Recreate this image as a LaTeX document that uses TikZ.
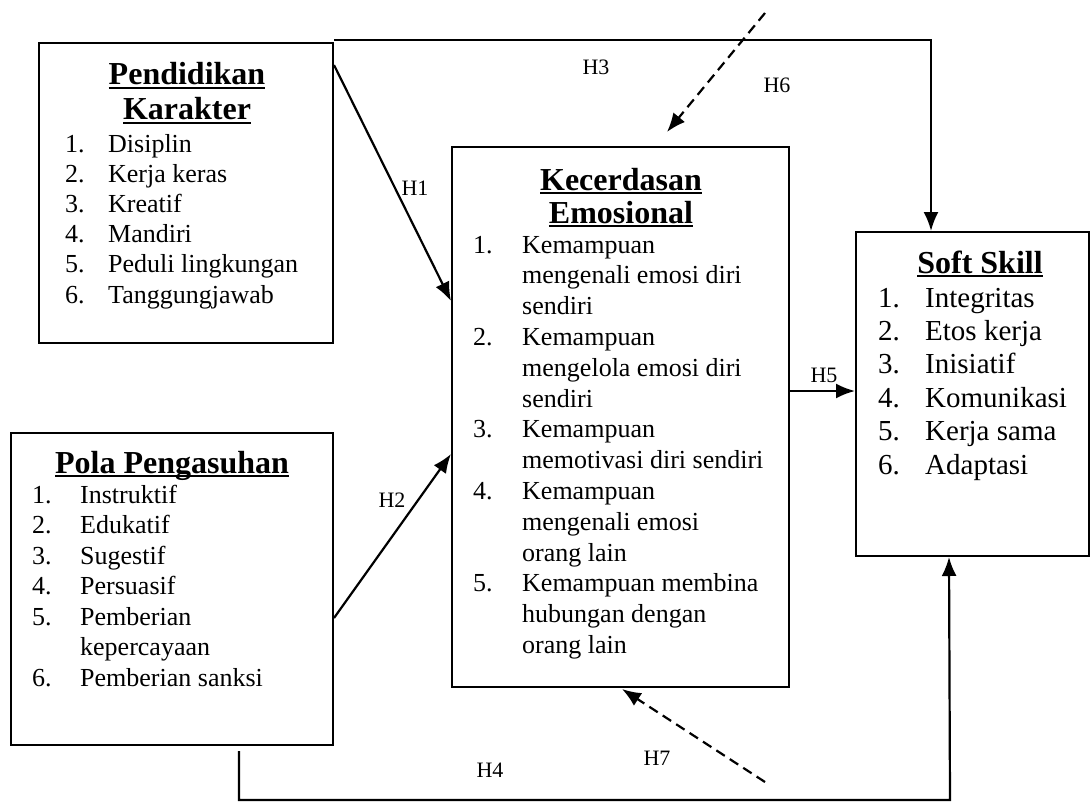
\documentclass[tikz,border=0pt]{standalone}
\usepackage{fontspec}
\setmainfont{Liberation Serif}
\usetikzlibrary{arrows.meta,calc}
\newcommand{\myul}[1]{\setbox0\hbox{#1}\rlap{\rule[-4pt]{\wd0}{2pt}}\box0}
\begin{document}
\begin{tikzpicture}[x=1pt,y=-1pt,
  box/.style={draw,line width=2pt,inner sep=0pt},
  ttl/.style={anchor=base,align=center,inner sep=0pt,font=\fontsize{32}{35}\selectfont\bfseries},
  lst/.style={anchor=base west,inner sep=0pt},
  arr/.style={line width=2.2pt,-{Latex[length=19pt,width=15pt]}},
  darr/.style={arr,dash pattern=on 10pt off 6pt},
  hlab/.style={inner sep=0pt,font=\fontsize{22}{24}\selectfont}]
\useasboundingbox (0,0) rectangle (1091,805);
% boxes
\node[box,minimum width=294pt,minimum height=300pt] (b1) at (186,193) {};
\node[box,minimum width=337pt,minimum height=540pt] (b2) at (620.5,417) {};
\node[box,minimum width=233pt,minimum height=324pt] (b3) at (972.5,394) {};
\node[box,minimum width=322pt,minimum height=312pt] (b4) at (172,589) {};
% titles
\node[ttl] (t1) at (187,120) {\myul{Pendidikan}\\\myul{Karakter}};
\node[ttl,font=\fontsize{32}{33}\selectfont\bfseries] (t2) at (621,223) {\myul{Kecerdasan}\\\myul{Emosional}};
\node[ttl] (t3) at (980,273) {\myul{Soft Skill}};
\node[ttl] (t4) at (172,473) {\myul{Pola Pengasuhan}};
% lists
\node[lst,font=\fontsize{26}{30}\selectfont] (l1) at (65,153) {\begin{tabular}[t]{@{}p{43pt}@{}l@{}}
1.&Disiplin\\ 2.&Kerja keras\\ 3.&Kreatif\\ 4.&Mandiri\\ 5.&Peduli lingkungan\\ 6.&Tanggungjawab\end{tabular}};
\node[lst,font=\fontsize{26}{30.8}\selectfont] (l2) at (473,253) {\begin{tabular}[t]{@{}p{49pt}@{}l@{}}
1.&Kemampuan\\ &mengenali emosi diri\\ &sendiri\\
2.&Kemampuan\\ &mengelola emosi diri\\ &sendiri\\
3.&Kemampuan\\ &memotivasi diri sendiri\\
4.&Kemampuan\\ &mengenali emosi\\ &orang lain\\
5.&Kemampuan membina\\ &hubungan dengan\\ &orang lain\end{tabular}};
\node[lst,font=\fontsize{29}{33.4}\selectfont] (l3) at (878,307) {\begin{tabular}[t]{@{}p{47pt}@{}l@{}}
1.&Integritas\\ 2.&Etos kerja\\ 3.&Inisiatif\\ 4.&Komunikasi\\ 5.&Kerja sama\\ 6.&Adaptasi\end{tabular}};
\node[lst,font=\fontsize{26}{30.5}\selectfont] (l4) at (32,503) {\begin{tabular}[t]{@{}p{48pt}@{}l@{}}
1.&Instruktif\\ 2.&Edukatif\\ 3.&Sugestif\\ 4.&Persuasif\\ 5.&Pemberian\\ &kepercayaan\\ 6.&Pemberian sanksi\end{tabular}};
% helper coordinates
\coordinate (h4c) at (950,800);
\coordinate (h6s) at (765,13);
\coordinate (h7s) at (765,782);
% connectors
\draw[arr] ($(b1.north east)+(0,23)$) -- ($(b2.north west)+(0,155)$);
\draw[arr] ($(b4.north east)+(0,186)$) -- ($(b2.north west)+(0,308)$);
\draw[arr] ($(b1.north east)+(0,-2)$) -| ($(b3.north west)+(76,0)$);
\draw[arr] ($(b4.south west)+(229,5)$) |- (h4c) -- ($(b3.south west)+(94,0)$);
\draw[arr] ($(b2.north east)+(0,245)$) -- ($(b3.north west)+(0,160)$);
\draw[darr] (h6s) -- ($(b2.north west)+(216,-14)$);
\draw[darr] (h7s) -- ($(b2.south west)+(171,1)$);
% labels
\node[hlab] (H1) at (415,188) {H1};
\node[hlab] (H2) at (392,500) {H2};
\node[hlab] (H3) at (596,67) {H3};
\node[hlab] (H4) at (490,770) {H4};
\node[hlab] (H5) at (824,375) {H5};
\node[hlab] (H6) at (777,85) {H6};
\node[hlab] (H7) at (657,758) {H7};
\end{tikzpicture}
\end{document}
